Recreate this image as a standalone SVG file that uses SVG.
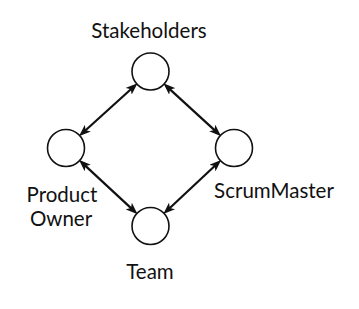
<svg xmlns="http://www.w3.org/2000/svg" width="359" height="309" viewBox="0 0 359 309">
  <style>
    .node circle { fill: #ffffff; stroke: #111111; stroke-width: 1.6; }
    .label { font-family: "Lato", "Open Sans", "DejaVu Sans", sans-serif; font-size: 20.5px; fill: #111111; text-anchor: middle; }
    .edge { stroke: #111111; stroke-width: 2.2; fill: none; marker-start: url(#arrow); marker-end: url(#arrow); }
  </style>
  <defs>
    <marker id="arrow" viewBox="0 0 12 9" refX="6" refY="4.5" markerWidth="12" markerHeight="9" markerUnits="userSpaceOnUse" orient="auto-start-reverse">
      <path d="M0,0 L12,4.5 L0,9 L3,4.5 Z" fill="#111111"/>
    </marker>
  </defs>
  <rect width="359" height="309" fill="#ffffff"/>
  <g id="connectors">
    <line class="edge" x1="133.1" y1="87.3" x2="83.4" y2="132.2"/>
    <line class="edge" x1="167.8" y1="87.4" x2="216.7" y2="132.1"/>
    <line class="edge" x1="83.3" y1="163.9" x2="133.2" y2="210.1"/>
    <line class="edge" x1="216.8" y1="164.0" x2="167.7" y2="210.0"/>
  </g>
  <g id="stakeholders" class="node">
    <circle cx="150.5" cy="71.5" r="18.5"/>
    <text class="label" x="149" y="37.5">Stakeholders</text>
  </g>
  <g id="product-owner" class="node">
    <circle cx="66" cy="148" r="18.5"/>
    <text class="label" x="62" y="202">Product</text>
    <text class="label" x="61" y="226">Owner</text>
  </g>
  <g id="scrummaster" class="node">
    <circle cx="234" cy="148" r="18.5"/>
    <text class="label" x="274" y="198">ScrumMaster</text>
  </g>
  <g id="team" class="node">
    <circle cx="150.5" cy="226" r="18.5"/>
    <text class="label" x="150" y="279">Team</text>
  </g>
</svg>
